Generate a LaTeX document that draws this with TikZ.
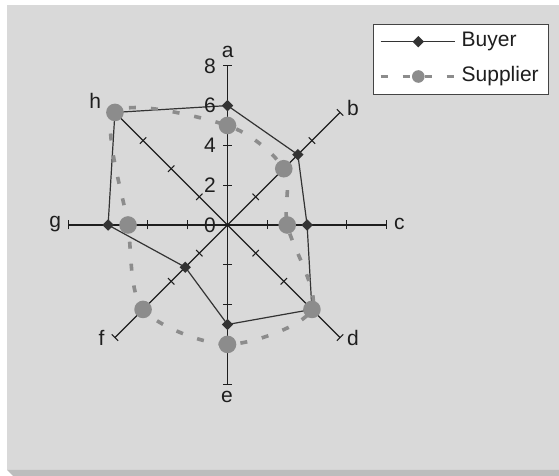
\documentclass[tikz,border=0pt]{standalone}
\usepackage{fontspec}
\setmainfont{Liberation Sans}
\usetikzlibrary{shapes.geometric}
\definecolor{bgc}{HTML}{D9D9D9}
\definecolor{shadowc}{HTML}{BDBDBD}
\definecolor{axisc}{HTML}{1E1E1E}
\definecolor{buyerc}{HTML}{333333}
\definecolor{supc}{HTML}{8C8C8C}
\definecolor{legc}{HTML}{444444}
\begin{document}
\begin{tikzpicture}[x=1pt,y=1pt,
  font=\fontsize{21}{25}\selectfont,
  axisline/.style={draw=axisc,line width=1.1pt},
  tickline/.style={draw=axisc,line width=1.1pt},
  buyerline/.style={draw=buyerc,line width=1.2pt},
  supline/.style={draw=supc,line width=3.6pt,dash pattern=on 7pt off 15pt},
  bmark/.style={diamond,fill=buyerc,inner sep=0pt,minimum size=11.5pt},
  smark/.style={circle,fill=supc,inner sep=0pt,minimum size=17.6pt},
  smarksmall/.style={circle,fill=supc,inner sep=0pt,minimum size=12.6pt},
  lbl/.style={text=axisc,inner sep=0pt},
  num/.style={text=axisc,inner sep=0pt,anchor=east}]
\useasboundingbox (0,0) rectangle (559,476);
\fill[white] (0,0) rectangle (559,476);
\fill[bgc] (7,6) rectangle (559,471);
\fill[shadowc] (7,6) -- (13,0) -- (559,0) -- (559,6) -- cycle;

\begin{scope}[shift={(227.5,251)}]
  \coordinate (O) at (0,0);
  % axes and ticks
  \foreach \t in {0,45,...,315} {
    \coordinate (end\t) at (\t:159.2);
    \draw[axisline] (O) -- (end\t);
    \foreach \v in {2,4,6,8} {
      \draw[tickline] ([shift={({\t+90}:4.5)}]{\t}:{\v*19.9}) -- ([shift={({\t-90}:4.5)}]{\t}:{\v*19.9});
    }
  }
  % data points
  \def\U{19.9}
  \coordinate (B1) at (90:{6*\U});
  \coordinate (B2) at (45:{5*\U});
  \coordinate (B3) at (0:{4*\U});
  \coordinate (B4) at (-45:{6*\U});
  \coordinate (B5) at (-90:{5*\U});
  \coordinate (B6) at (-135:{3*\U});
  \coordinate (B7) at (180:{6*\U});
  \coordinate (B8) at (135:{8*\U});
  \coordinate (S1) at (90:{5*\U});
  \coordinate (S2) at (45:{4*\U});
  \coordinate (S3) at (0:{3*\U});
  \coordinate (S4) at (-45:{6*\U});
  \coordinate (S5) at (-90:{6*\U});
  \coordinate (S6) at (-135:{6*\U});
  \coordinate (S7) at (180:{5*\U});
  \coordinate (S8) at (135:{8*\U});
  % buyer series
  \draw[buyerline] (B1) -- (B2) -- (B3) -- (B4) -- (B5) -- (B6) -- (B7) -- (B8) -- cycle;
  \foreach \i in {1,...,8} { \node[bmark] (Bm\i) at (B\i) {}; }
  % supplier series
  \draw[supline] plot[smooth cycle,tension=0.5] coordinates {(S1) (S2) (S3) (S4) (S5) (S6) (S7) (S8)};
  \foreach \i in {1,...,8} { \node[smark] (Sm\i) at (S\i) {}; }
\end{scope}

% tick numbers
\node[num] (n0) at (216,251) {0};
\node[num] (n2) at (216,290.8) {2};
\node[num] (n4) at (216,330.6) {4};
\node[num] (n6) at (216,370.4) {6};
\node[num] (n8) at (216,410.2) {8};

% axis labels
\node[lbl] (la) at (227.7,424.3) {a};
\node[lbl] (lb) at (353,368) {b};
\node[lbl] (lc) at (399.3,252) {c};
\node[lbl] (ld) at (353,138) {d};
\node[lbl] (le) at (227,79) {e};
\node[lbl] (lf) at (101.6,138) {f};
\node[lbl] (lg) at (55.3,252) {g};
\node[lbl] (lh) at (95.2,375.3) {h};

% legend
\draw[legc,fill=white,line width=1pt] (373.3,381.7) rectangle (548.3,451.7);
\coordinate (lb1) at (380.7,434.3);
\coordinate (lb2) at (455,434.3);
\draw[buyerline] (lb1) -- (lb2);
\node[bmark] (legB) at (418.3,434.3) {};
\node[lbl,anchor=west] (tB) at (461.5,434.3) {Buyer};
\coordinate (ls1) at (380.7,399.5);
\coordinate (ls2) at (456,399.5);
\draw[supline] (ls1) -- (ls2);
\node[smarksmall] (legS) at (418.3,399.5) {};
\node[lbl,anchor=west] (tS) at (461.5,399.5) {Supplier};
\end{tikzpicture}
\end{document}
